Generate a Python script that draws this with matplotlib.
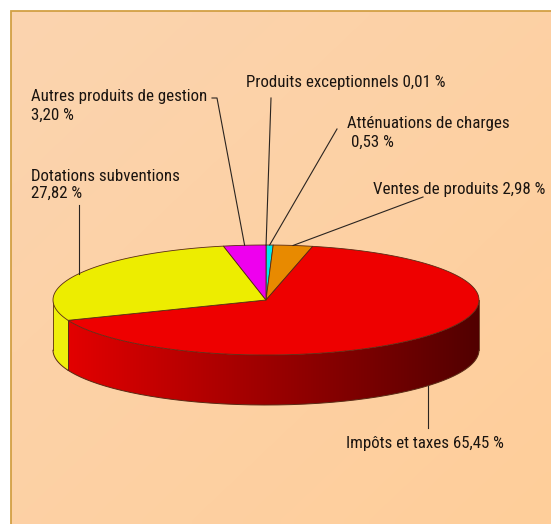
import numpy as np
import matplotlib
matplotlib.use("Agg")
import matplotlib.pyplot as plt
from matplotlib.patches import Polygon
from matplotlib import font_manager as fm

# ---------------- data ----------------
categories = ["Produits exceptionnels", "Atténuations de charges", "Ventes de produits",
              "Impôts et taxes", "Dotations subventions", "Autres produits de gestion"]
values = [0.01, 0.53, 2.98, 65.45, 27.82, 3.20]
pct_text = ["0,01 %", "0,53 %", "2,98 %", "65,45 %", "27,82 %", "3,20 %"]
top_colors = ["#F0F0F0", "#00E8F0", "#E88A00", "#EE0000", "#EDED00", "#EE00EE"]

# ---------------- font ----------------
def pick_font():
    for name in ["Liberation Sans Narrow", "Arial Narrow", "Roboto Condensed",
                 "DejaVu Sans Condensed", "Liberation Sans"]:
        try:
            fm.findfont(fm.FontProperties(family=name), fallback_to_default=False)
            return name
        except Exception:
            pass
    return "DejaVu Sans"

FONT = pick_font()
FS = 12.2 if ("Narrow" in FONT or "Condensed" in FONT) else 10.0

W, H = 551, 524
fig = plt.figure(figsize=(W / 100, H / 100), dpi=100)
ax = fig.add_axes([0, 0, 1, 1])
ax.set_xlim(0, W)
ax.set_ylim(H, 0)
ax.axis("off")
fig.patch.set_facecolor("white")

# background panel with mild gradient
yy, xx = np.mgrid[0:1:60j, 0:1:60j]
c_tl = np.array([251, 212, 175]) / 255
c_br = np.array([255, 206, 154]) / 255
t = (0.5 * xx + 0.5 * yy)[..., None]
img = c_tl * (1 - t) + c_br * t
ax.imshow(img, extent=(11, W, H, 11), aspect="auto", zorder=0, interpolation="bilinear")
ax.plot([11, 11, W], [H, 11, 11], color="#D2A044", lw=1.3, zorder=1, solid_joinstyle="miter")

# ---------------- 3D pie ----------------
cx, cy, rx, ry, depth = 266, 300, 213, 55, 50
total = float(sum(values))
bounds = 90 - 360 * np.concatenate([[0], np.cumsum(values)]) / total
edge_c = "#5A2A14"


def pt(th, dz=0.0):
    r = np.radians(th)
    return cx + rx * np.cos(r), cy - ry * np.sin(r) + dz


# horizontal gradients for the side walls
gx = np.linspace(0, 1, 256)
red_a = np.array([0.91, 0.0, 0.0]); red_b = np.array([0.32, 0.0, 0.0])
red_grad = (red_a[None, :] * (1 - gx[:, None]) + red_b[None, :] * gx[:, None])[None, :, :]
yel_a = np.array([0.94, 0.94, 0.05]); yel_b = np.array([0.90, 0.90, 0.0])
yel_grad = (yel_a[None, :] * (1 - gx[:, None]) + yel_b[None, :] * gx[:, None])[None, :, :]
side_grad = {"Impôts et taxes": red_grad, "Dotations subventions": yel_grad}

for i, (a0, a1) in enumerate(zip(bounds[:-1], bounds[1:])):
    n = max(int(abs(a0 - a1) * 3), 2)
    th = np.linspace(a0, a1, n)
    vis = np.sin(np.radians(th)) < 1e-9
    if vis.sum() < 2:
        continue
    ths = th[vis]
    xt, yt = pt(ths)
    xb, yb = pt(ths, depth)
    verts = list(zip(xt, yt)) + list(zip(xb[::-1], yb[::-1]))
    poly = Polygon(verts, closed=True, facecolor="none", edgecolor="none", zorder=2)
    ax.add_patch(poly)
    grad = side_grad.get(categories[i], red_grad)
    im = ax.imshow(grad, extent=(cx - rx, cx + rx, cy + ry + depth + 2, cy - ry - 2),
                   aspect="auto", zorder=2, interpolation="bilinear")
    im.set_clip_path(poly)
    # outlines of the side
    ax.plot(xb, yb, color=edge_c, lw=0.7, zorder=3)
    for k in (0, -1):
        ax.plot([xt[k], xt[k]], [yt[k], yt[k] + depth], color=edge_c, lw=0.6, zorder=3)

# top faces
for i, (a0, a1) in enumerate(zip(bounds[:-1], bounds[1:])):
    n = max(int(abs(a0 - a1) * 3), 2)
    th = np.linspace(a0, a1, n)
    xs, ys = pt(th)
    verts = [(cx, cy)] + list(zip(xs, ys))
    ax.add_patch(Polygon(verts, closed=True, facecolor=top_colors[i], edgecolor=edge_c,
                         lw=0.6, zorder=4, joinstyle="round"))

# ---------------- labels ----------------
txt_kw = dict(fontsize=FS, family=FONT, color="#1A1410", zorder=6, va="baseline", ha="left")
lead_kw = dict(color="#2A2420", lw=0.8, zorder=5)
mid = (bounds[:-1] + bounds[1:]) / 2

# Produits exceptionnels
ax.text(246, 87, f"{categories[0]} {pct_text[0]}", **txt_kw)
ex, ey = pt(mid[0])
ax.plot([271, ex], [98, ey], **lead_kw)

# Atténuations de charges
ax.text(347, 128, categories[1], **txt_kw)
ax.text(351, 147, pct_text[1], **txt_kw)
ex, ey = pt(mid[1])
ax.plot([337, ex], [129, ey], **lead_kw)

# Ventes de produits
ax.text(373, 194, f"{categories[2]} {pct_text[2]}", **txt_kw)
ex, ey = pt(mid[2])
ax.plot([423, ex], [197, ey], **lead_kw)

# Impôts et taxes
ex, ey = pt(mid[3], depth)
ax.plot([ex, ex], [ey, 428], **lead_kw)
ax.text(346, 448, f"{categories[3]} {pct_text[3]}", **txt_kw)

# Dotations subventions
ax.text(31, 181, categories[4], **txt_kw)
ax.text(31, 198, pct_text[4], **txt_kw)
ex, ey = pt(mid[4])
ax.plot([ex, ex], [205, ey], **lead_kw)

# Autres produits de gestion
ax.text(31, 101, categories[5], **txt_kw)
ax.text(31, 120, pct_text[5], **txt_kw)
ex, ey = pt(mid[5])
ax.plot([212, 217, ex], [98, 98, ey], **lead_kw)

fig.savefig("out.png", dpi=100, facecolor="white")
